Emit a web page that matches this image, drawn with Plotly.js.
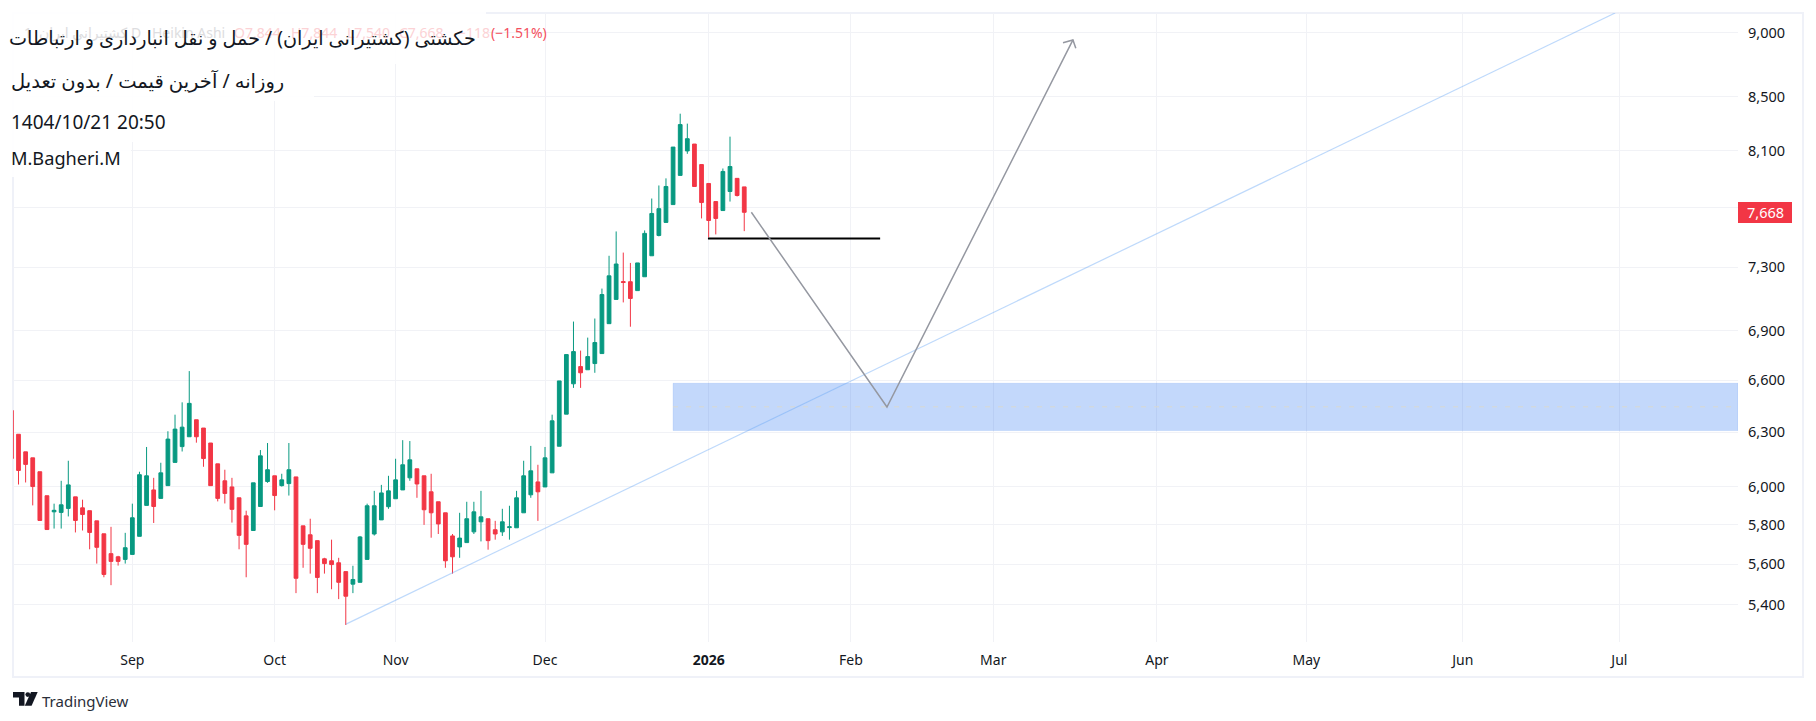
<!DOCTYPE html>
<html>
<head>
<meta charset="utf-8">
<script src="https://cdn.plot.ly/plotly-3.0.1.min.js"></script>
<style>html,body{margin:0;padding:0;background:#fff;overflow:hidden}#c{width:1816px;height:721px}</style>
</head>
<body>
<div id="c"></div>
<script>
// ---- candle values (bar index starts at -1, the bar cut by the left edge) ----
const openP = [6424,6289,6191,6158,6082,5953,5868,5865,5886,5947,5889,5874,5821,5754,5653,5637,5624,5649,5741,5902,5984,5939,6007,6133,6220,6275,6371,6324,6240,6125,6033,6000,5942,5847,5771,5896,6029,6060,6007,6018,6054,5795,5749,5719,5627,5617,5607,5563,5501,5510,5624,5753,5826,5895,5937,5984,6049,6098,6060,5974,5921,5863,5743,5687,5709,5764,5816,5832,5775,5764,5786,5785,5863,5958,6027,6000,6076,6222,6403,6579,6681,6662,6699,6759,6942,7094,7208,7207,7150,7239,7376,7511,7599,7721,7925,8100,8150,8002,7868,7742,7680,7812,7904,7844];
const highP = [6424,6289,6191,6158,6082,5953,5911,6033,6142,5947,5932,5874,5821,5754,5790,5642,5759,5911,6082,6218,6049,6131,6306,6400,6471,6654,6371,6324,6240,6125,6093,6049,5942,5874,6022,6201,6240,6060,6071,6240,6054,5795,5832,5719,5632,5724,5632,5563,5592,5743,5911,5979,6011,6060,6153,6256,6251,6098,6060,6071,5921,5863,5753,5863,5921,5921,5979,5832,5821,5884,5900,5979,6142,6224,6120,6218,6400,6596,6753,6955,6777,6856,6974,7163,7376,7538,7397,7329,7329,7545,7763,7854,7904,8128,8374,8300,8150,8002,7868,7742,7974,8204,7904,7844];
const lowP = [6154,6013,6024,5902,5823,5776,5781,5781,5844,5761,5771,5675,5603,5535,5496,5593,5603,5649,5741,5902,5810,5939,6007,6133,6193,6275,6242,6109,6007,5923,5912,5812,5675,5535,5771,5896,6022,5876,6002,5954,5457,5582,5553,5457,5553,5476,5428,5304,5457,5510,5624,5745,5826,5884,5937,5984,6033,5942,5800,5734,5753,5582,5553,5632,5709,5753,5715,5673,5724,5743,5724,5785,5863,5942,5821,6000,6076,6222,6403,6555,6555,6662,6644,6759,6942,7094,7075,6923,7150,7239,7376,7505,7599,7721,7925,8079,7847,7626,7498,7518,7680,7742,7777,7540];
const closeP = [6154,6089,6122,6002,5823,5776,5876,5905,6011,5823,5854,5761,5685,5549,5614,5614,5683,5837,6066,6060,5896,6076,6262,6318,6329,6465,6275,6154,6007,5939,5965,5881,5746,5700,6022,6169,6093,5954,6038,6093,5530,5700,5680,5534,5603,5598,5510,5442,5524,5738,5900,5900,5968,5979,6038,6120,6147,6016,5879,5863,5805,5617,5637,5732,5832,5868,5842,5719,5753,5816,5790,5942,6060,6087,5974,6158,6365,6596,6753,6771,6644,6741,6826,7125,7245,7322,7202,7100,7329,7525,7660,7693,7847,8128,8293,8189,7847,7735,7612,7626,7953,7988,7784,7668];
const barIndex = openP.map((_, k) => k - 1);

// ---- axes ----
const priceTicks = [5400,5600,5800,6000,6300,6600,6900,7300,7700,8100,8500,9000];
const priceTickText = ['5,400','5,600','5,800','6,000','6,300','6,600','6,900','7,300','7,700','8,100','8,500','9,000'];
const timeTicks = [16,36,53,74,97,117,137,160,181,203,225];
const timeTickText = ['Sep','Oct','Nov','Dec','<b>2026</b>','Feb','Mar','Apr','May','Jun','Jul'];

// ---- drawings on the chart ----
const trendX = [46.03,224.4];
const trendP = [5308,9162];
const zoneX = [92,241.67,241.67,92,92];
const zoneP = [6582,6582,6310,6310,6582];
const zoneMidX = [92,241.67];
const zoneMidP = [6445,6445];
const supportX = [96.9,121.1];
const supportP = [7490,7490];
const pathX = [103,122.06,148.2];
const pathP = [7668,6444,8944];
const headX = [146.8,148.2,148.6];
const headP = [8922,8944,8878];

// ---- pixel helpers for page furniture ----
const W=1816,H=721,L=13,R=78,T=13,B=79;
const pw=W-L-R, ph=H-T-B;
const px=x=>(x-L)/pw, py=y=>1-(y-T)/ph;
const FONT='"Noto Sans","DejaVu Sans",sans-serif';
const INK='#131722';
function ann(text,x,y,anchor,size,color,family){
  return {text:text,xref:'paper',yref:'paper',x:px(x),y:py(y),xanchor:anchor,yanchor:'middle',showarrow:false,
    font:{size:size,color:color,family:family||FONT},borderpad:0,captureevents:false};
}
function rect(x0,y0,x1,y1,fill,line,layer){
  return {type:'rect',xref:'paper',yref:'paper',x0:px(x0),y0:py(y0),x1:px(x1),y1:py(y1),
    fillcolor:fill,line:line||{width:0},layer:layer||'above'};
}
function poly(points,fill){
  const d=points.map((p,k)=>(k?'L':'M')+px(p[0])+','+py(p[1])).join(' ')+' Z';
  return {type:'path',xref:'paper',yref:'paper',path:d,fillcolor:fill,line:{width:0},layer:'above'};
}
const MASK='rgba(255,255,255,0.92)';

const traces=[
  {type:'scatter',mode:'lines',x:zoneX,y:zoneP,fill:'toself',fillcolor:'rgba(33,110,240,0.27)',line:{color:'rgba(33,110,240,0.12)',width:1},hoverinfo:'skip',showlegend:false},
  {type:'scatter',mode:'lines',x:zoneMidX,y:zoneMidP,line:{color:'#d9d9d0',width:1,dash:'5px,8px'},hoverinfo:'skip',showlegend:false},
  {type:'scatter',mode:'lines',x:trendX,y:trendP,line:{color:'rgba(100,165,245,0.42)',width:1.2},hoverinfo:'skip',showlegend:false},
  {type:'candlestick',x:barIndex,open:openP,high:highP,low:lowP,close:closeP,whiskerwidth:0,
    increasing:{line:{color:'#089981',width:1},fillcolor:'#089981'},
    decreasing:{line:{color:'#f23645',width:1},fillcolor:'#f23645'},hoverinfo:'skip',showlegend:false},
  {type:'scatter',mode:'lines',x:supportX,y:supportP,line:{color:'#000000',width:2},hoverinfo:'skip',showlegend:false},
  {type:'scatter',mode:'lines',x:pathX,y:pathP,line:{color:'#9598a1',width:1.5},hoverinfo:'skip',showlegend:false},
  {type:'scatter',mode:'lines',x:headX,y:headP,line:{color:'#9598a1',width:1.5},hoverinfo:'skip',showlegend:false}
];

const paleGrey='#dddde0', paleRed='#fcd2d5';
const layout={
  width:W,height:H,margin:{l:L,r:R,t:T,b:B,pad:0,autoexpand:false},
  paper_bgcolor:'#ffffff',plot_bgcolor:'#ffffff',showlegend:false,boxgap:0.25,
  hovermode:false,dragmode:false,
  xaxis:{type:'linear',range:[-0.773,241.67],tickmode:'array',tickvals:timeTicks,ticktext:timeTickText,
    showgrid:true,gridcolor:'#f1f2f6',gridwidth:1,zeroline:false,showline:false,ticks:'',
    ticklabelstandoff:8,tickfont:{family:FONT,size:14,color:INK},tickangle:0,
    rangeslider:{visible:false},fixedrange:true},
  yaxis:{type:'log',side:'right',range:[Math.log10(5224),Math.log10(9162)],tickmode:'array',tickvals:priceTicks,ticktext:priceTickText,
    showgrid:true,gridcolor:'#f1f2f6',gridwidth:1,zeroline:false,showline:false,ticks:'',
    ticklabelstandoff:9,tickfont:{family:FONT,size:14.5,color:INK},fixedrange:true},
  shapes:[
    rect(13,13,1803,677,'rgba(0,0,0,0)',{color:'#eff1f8',width:2},'below'),
    rect(0,10,486,64,MASK),
    rect(0,64,314,101,MASK),
    rect(0,101,170,142,MASK),
    rect(0,142,131,177,MASK),
    {type:'rect',xref:'paper',yref:'paper',x0:px(1738),y0:py(202),x1:px(1792),y1:py(223),fillcolor:'#f23645',line:{width:0},layer:'above'},
    poly([[13,692],[24.5,692],[24.5,705.7],[19,705.7],[19,697.5],[13,697.5]],INK),
    poly([[31,692],[37.7,692],[31.6,705.7],[24.8,705.7]],INK),
    {type:'circle',xref:'paper',yref:'paper',x0:px(25.4),y0:py(692.2),x1:px(30.2),y1:py(697),fillcolor:INK,line:{width:0},layer:'above'}
  ],
  annotations:[
    ann('1',23,33,'left',14,paleGrey),
    ann('کشتیرانی ایران',128,33,'right',14,paleGrey),
    ann('D',130,33,'left',14,paleGrey),
    ann('Heikin Ashi',151,33,'left',14,paleGrey),
    ann('O7,844',233,33,'left',14,paleRed),
    ann('H7,844',290,33,'left',14,paleRed),
    ann('L7,540',346,33,'left',14,paleRed),
    ann('C7,668',398,33,'left',14,paleRed),
    ann('−118',457,33,'left',14,paleRed),
    ann('(−1.51%)',490,33,'left',14,'#f4505e'),
    ann('حکشتی (کشتیرانی ایران) / حمل و نقل انبارداری و ارتباطات',477,38,'right',19.2,INK),
    ann('روزانه / آخرین قیمت / بدون تعدیل',285,80,'right',19.5,INK),
    ann('1404/10/21 20:50',9.5,122,'left',19,INK),
    ann('M.Bagheri.M',9.5,158,'left',18.2,INK),
    ann('7,668',1765,212,'center',14.5,'#ffffff'),
    ann('TradingView',41,701,'left',15,'#2a2e39')
  ]
};
Plotly.newPlot('c',traces,layout,{displayModeBar:false,staticPlot:true,responsive:false});
</script>
</body>
</html>
